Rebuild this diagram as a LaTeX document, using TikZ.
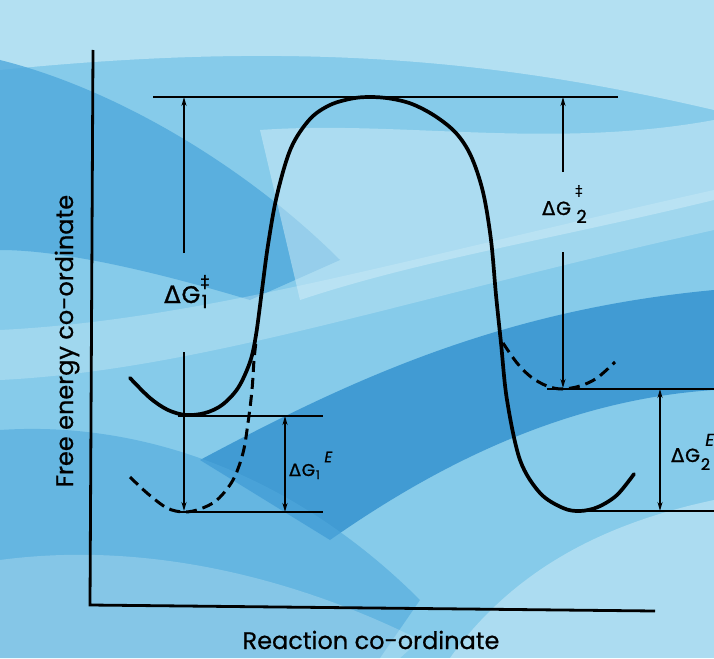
\documentclass[tikz,border=0pt]{standalone}
\usepackage{fontspec}
\setmainfont{Poppins}
\newfontfamily\labf{Poppins}[FakeBold=1.3]
\newfontfamily\symf{DejaVu Sans}[FakeBold=1.0]
\newfontfamily\axf{Poppins}[FakeBold=0.6]
\usetikzlibrary{arrows.meta}
\definecolor{bgbase}{HTML}{86CBEA}
\definecolor{bgdark}{HTML}{2587CA}
\definecolor{bgmid}{HTML}{4FA8DC}
\definecolor{bglight}{HTML}{D2EEF8}
\tikzset{
 curve/.style={line width=3.7pt, line cap=round},
 dcurve/.style={line width=3pt, dash pattern=on 11pt off 6pt},
 level/.style={line width=2.4pt},
 axis/.style={line width=2.8pt},
 dim/.style={line width=1.5pt, -{Stealth[length=9pt,width=5pt]}},
 dimboth/.style={line width=1.5pt, {Stealth[length=9pt,width=5pt]}-{Stealth[length=9pt,width=5pt]}},
 lab/.style={inner sep=0pt, anchor=base west},
 idx/.style={inner sep=0pt},
}
\begin{document}
\begin{tikzpicture}[x=1pt,y=-1pt]
\useasboundingbox (0,0) rectangle (714,658);
\clip (0,0) rectangle (714,658);
% background
\fill[bgbase] (0,0) rectangle (714,658);
\fill[bglight, opacity=0.6] (0,0) -- (714,0) -- (714,110) .. controls (500,60) and (300,40) .. (0,70) -- cycle;
\fill[bgmid, opacity=0.8] (0,60) .. controls (120,90) and (250,170) .. (340,260) -- (250,300) .. controls (150,270) and (60,250) .. (0,250) -- cycle;
\fill[bglight, opacity=0.5] (260,130) .. controls (400,120) and (550,150) .. (714,120) -- (714,200) .. controls (550,240) and (420,260) .. (300,300) -- cycle;
\fill[bgdark, opacity=0.7] (200,460) .. controls (350,380) and (500,310) .. (714,290) -- (714,390) .. controls (560,400) and (430,470) .. (330,540) -- cycle;
\fill[bglight, opacity=0.35] (0,330) .. controls (200,320) and (400,260) .. (714,190) -- (714,230) .. controls (400,300) and (200,370) .. (0,380) -- cycle;
\fill[bgmid, opacity=0.6] (0,430) .. controls (150,420) and (300,480) .. (420,600) -- (380,658) -- (0,658) -- cycle;
\fill[bglight, opacity=0.5] (450,658) .. controls (520,560) and (620,520) .. (714,500) -- (714,658) -- cycle;
\fill[bglight, opacity=0.3] (0,560) .. controls (150,540) and (300,580) .. (420,640) -- (400,658) -- (0,658) -- cycle;

% axes
\coordinate (yaxtop) at (93,50);
\coordinate (origin) at (90,605);
\coordinate (xaxend) at (655,611);
\draw[axis] (yaxtop) -- (origin) -- (xaxend);

% levels
\coordinate (topL) at (153,97);  \coordinate (topR) at (618,97);
\coordinate (w1L) at (178,416);  \coordinate (w1R) at (323,416);
\coordinate (b1L) at (178,512);  \coordinate (b1R) at (323,512);
\coordinate (w2L) at (547,389);  \coordinate (w2R) at (714,389);
\coordinate (b2L) at (575,511);  \coordinate (b2R) at (714,511);
\draw[level] (topL) -- (topR);
\draw[level] (w1L) -- (w1R);
\draw[level] (b1L) -- (b1R);
\draw[level] (w2L) -- (w2R);
\draw[level] (b2L) -- (b2R);

% solid energy curve
\draw[curve] plot[smooth, tension=0.55] coordinates {
 (130,378) (150,398) (168,410) (186,415) (205,413) (222,405) (238,388) (250,362) (256,335)
 (262,290) (268,245) (277,195) (291,148) (310,119) (330,105) (352,98.5) (370,97) (390,98.5)
 (412,104) (435,116) (456,133) (471,156) (483,192) (491,240) (496,295) (501,343) (507,400)
 (520,460) (540,493) (563,508) (580,511) (598,507) (617,495) (634,474)};

% dashed curves
\draw[dcurve] plot[smooth, tension=0.55] coordinates {
 (130,477) (147,493) (167,508) (184,512) (200,509) (217,500) (233,480) (243,453) (248,423)
 (252,390) (254,360) (256,342)};
\draw[dcurve] plot[smooth, tension=0.55] coordinates {
 (503,343) (517,363) (531,377) (547,386) (562,389) (580,386) (597,378) (615,362)};

% dimension arrows
\coordinate (a1top) at (184,97);   \coordinate (a1s) at (184,253);
\coordinate (a1b) at (184,352);    \coordinate (a1e) at (184,511);
\draw[dim] (a1s) -- (a1top);
\draw[dim] (a1b) -- (a1e);
\coordinate (a2top) at (563,97);   \coordinate (a2s) at (563,172);
\coordinate (a2b) at (563,252);    \coordinate (a2e) at (563,388);
\draw[dim] (a2s) -- (a2top);
\draw[dim] (a2b) -- (a2e);
\coordinate (e1t) at (285,416);  \coordinate (e1b) at (285,512);
\draw[dimboth] (e1t) -- (e1b);
\coordinate (e2t) at (660,389);  \coordinate (e2b) at (660,511);
\draw[dimboth] (e2t) -- (e2b);

% labels: Delta G 1 double dagger
\node[lab, font=\fontsize{24}{28}\selectfont] (l1) at (164,303) {{\symf Δ}\kern1pt{\labf G}};
\node[idx, anchor=base west, font=\fontsize{18}{20}\selectfont\labf] (l1sub) at ([xshift=1pt,yshift=-5pt]l1.base east) {1};
\node[idx, anchor=south west, font=\fontsize{17}{20}\selectfont\symf] (l1sup) at ([xshift=0pt,yshift=-4pt]l1.north east) {‡};
% Delta G 2 double dagger
\node[lab, font=\fontsize{19}{22}\selectfont] (l2) at (542,215) {{\symf Δ}\kern1pt{\labf G}};
\node[idx, anchor=base west, font=\fontsize{18}{20}\selectfont\labf] (l2sub) at ([xshift=5pt,yshift=-8pt]l2.base east) {2};
\node[idx, anchor=south west, font=\fontsize{14}{16}\selectfont\symf] (l2sup) at ([xshift=4pt,yshift=4pt]l2.north east) {‡};
% Delta G 1 E
\node[lab, font=\fontsize{17}{20}\selectfont] (l3) at (289,476) {{\symf Δ}\kern1pt{\labf G}};
\node[idx, anchor=base west, font=\fontsize{12}{14}\selectfont\labf] (l3sub) at ([xshift=0.5pt,yshift=-3pt]l3.base east) {1};
\node[idx, anchor=south west, font=\fontsize{15}{17}\selectfont\labf] (l3sup) at ([xshift=9pt,yshift=1pt]l3.north east) {\textit{E}};
% Delta G 2 E
\node[lab, font=\fontsize{19}{22}\selectfont] (l4) at (671,462) {{\symf Δ}\kern1pt{\labf G}};
\node[idx, anchor=base west, font=\fontsize{16}{18}\selectfont\labf] (l4sub) at ([xshift=0.5pt,yshift=-8pt]l4.base east) {2};
\node[idx, anchor=south west, font=\fontsize{17}{20}\selectfont\labf] (l4sup) at ([xshift=5pt,yshift=2pt]l4.north east) {\textit{E}};

% axis titles
\node[inner sep=0pt, anchor=base, font=\fontsize{24}{28}\selectfont\axf] (xt) at (371,649) {Reaction co-ordinate};
\node[inner sep=0pt, anchor=base, rotate=90, font=\fontsize{24}{28}\selectfont\axf] (yt) at (73,341) {Free energy co-ordinate};
\end{tikzpicture}
\end{document}
